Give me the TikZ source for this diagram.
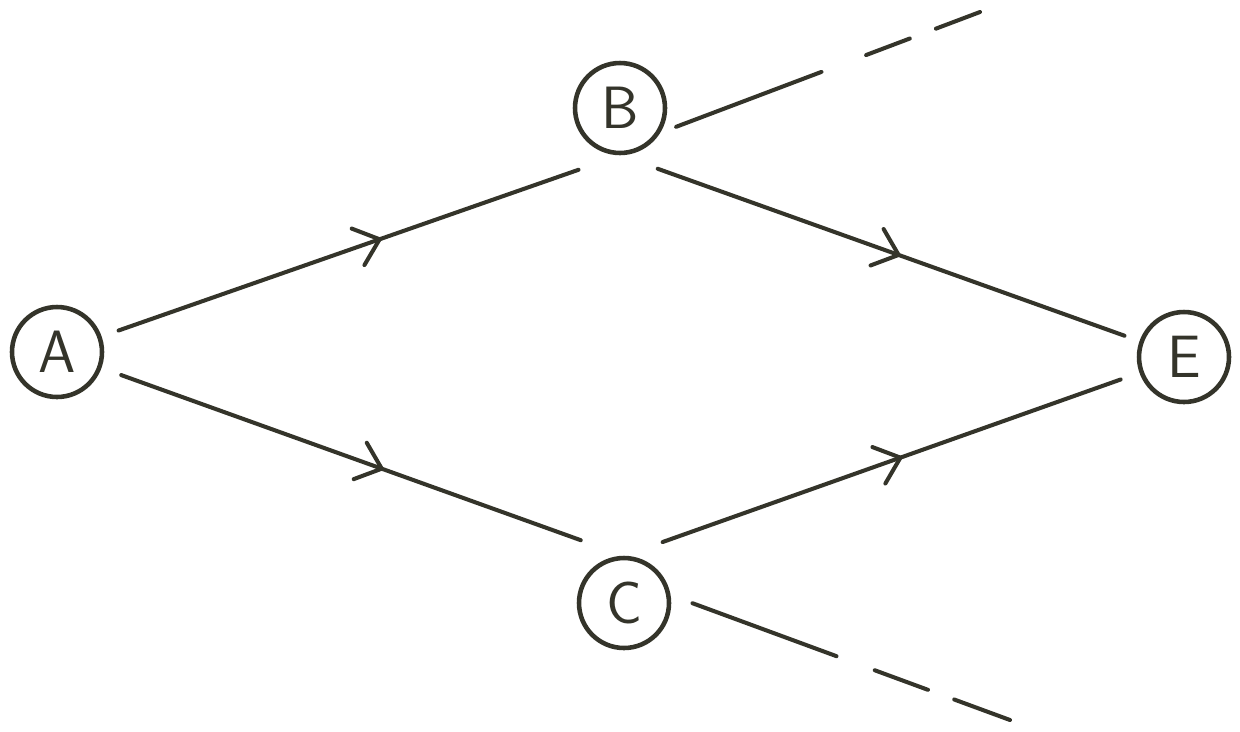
\documentclass[tikz,border=0pt]{standalone}
\usetikzlibrary{arrows.meta,decorations.markings,calc}
\definecolor{ink}{RGB}{52,52,42}
\begin{document}
\begin{tikzpicture}[x=0.02cm,y=-0.02cm,
  vertex/.style={circle,draw=ink,line width=2.6pt,minimum size=1.8cm,inner sep=0pt,
    font=\sffamily\fontsize{34}{34}\selectfont,text=ink},
  edge/.style={draw=ink,line width=2.3pt,line cap=round,
    postaction={decorate},
    decoration={markings,mark=at position 0.54 with {\arrow[ink,line width=2.3pt]{Straight Barb[length=13pt,width=22pt,round]}}}},
  tail/.style={draw=ink,line width=2.3pt,line cap=round}]
\useasboundingbox (0,0) rectangle (1240,731);
\node[vertex] (A) at (57,352) {A};
\node[vertex] (B) at (620,108) {B};
\node[vertex] (C) at (624,603) {C};
\node[vertex] (E) at (1184,357) {E};
\coordinate (Bs) at ($(B)+(0,40)$);
\coordinate (Cs) at ($(C)+(0,-25)$);
\coordinate (Bx) at (980,12);
\coordinate (Cx) at (1010,720);
\draw[edge,shorten <=0.36cm,shorten >=0.88cm] (A) -- (B.south);
\draw[edge,shorten <=0.8cm,shorten >=0.32cm] (B.south) -- (E);
\draw[edge,shorten <=0.42cm,shorten >=0.92cm] (A) -- (C.north);
\draw[edge,shorten <=0.82cm,shorten >=0.4cm] (C.north) -- (E);
\draw[tail,shorten <=1.2cm,dash pattern=on 88.4pt off 27.2pt on 26.6pt off 15.9pt on 40pt] (Bs) -- (Bx);
\draw[tail,shorten <=1.46cm,dash pattern=on 87.3pt off 23.2pt on 32.3pt off 15.9pt on 40pt] (Cs) -- (Cx);
\end{tikzpicture}
\end{document}
